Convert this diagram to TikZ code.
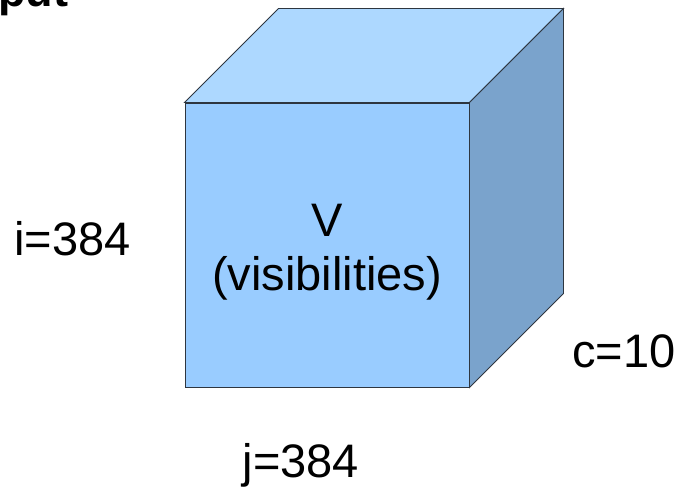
\documentclass[tikz,border=0pt]{standalone}
\usepackage{fontspec}
\setmainfont{Liberation Sans}
\usetikzlibrary{positioning}
\definecolor{frontcol}{HTML}{99CCFF}
\definecolor{topcol}{HTML}{ADD8FF}
\definecolor{sidecol}{HTML}{7AA3CC}
\definecolor{edgecol}{HTML}{2E3640}
\tikzset{
  face/.style={draw=edgecol, line width=0.9pt, line join=miter},
  fnode/.style={face, fill=frontcol, rectangle, minimum width=284pt, minimum height=284pt, inner sep=0pt},
  lbl/.style={inner sep=0pt, font=\fontsize{47}{54}\selectfont},
  ttl/.style={inner sep=0pt, font=\fontsize{45}{54}\selectfont\bfseries},
}
\begin{document}
\begin{tikzpicture}[x=1pt, y=-1pt]
  \useasboundingbox (0,0) rectangle (684,489);
  % front face
  \node[fnode] (front) at (327,245) {};
  % depth of the cube
  \coordinate (tl) at ([shift={(94,-94)}]front.north west);
  \coordinate (tr) at ([shift={(94,-94)}]front.north east);
  \coordinate (br) at ([shift={(94,-94)}]front.south east);
  \draw[face, fill=topcol] (front.north west) -- (tl) -- (tr) -- (front.north east) -- cycle;
  \draw[face, fill=sidecol] (front.north east) -- (tr) -- (br) -- (front.south east) -- cycle;
  % name of the data
  \node[lbl, anchor=base] (name) at (327,236) {V};
  \node[lbl, anchor=base] (desc) at (327,290) {(visibilities)};
  % axis sizes
  \node[lbl, anchor=base west] (isize) at (14,255) {i=384};
  \node[lbl, anchor=base] (jsize) at (301,477) {j=384};
  \node[lbl, anchor=base west] (csize) at (572,367) {c=10};
  \node[ttl, anchor=base west] (title) at (-2,7) {put};
\end{tikzpicture}
\end{document}
